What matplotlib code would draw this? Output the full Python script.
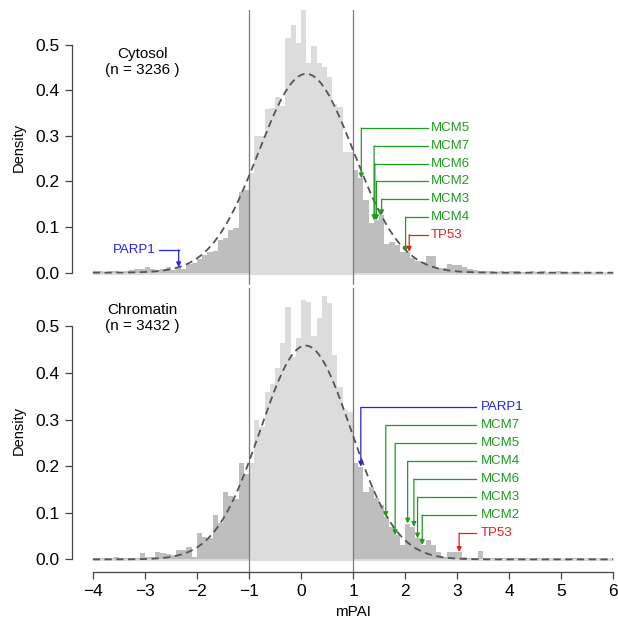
import numpy as np
import matplotlib
matplotlib.use("Agg")
import matplotlib.pyplot as plt

plt.rcParams['font.family'] = ['Liberation Sans', 'DejaVu Sans']

# histogram bins (left edges, width 0.1) from -4 to 6
bin_w = 0.1
bin_left = np.round(np.arange(-4.0, 6.0 - 1e-9, bin_w), 1)

# Cytosol densities, read bin by bin
cyto_dens = [0.003, 0.003, 0.002, 0.003, 0.003, 0.000, 0.003, 0.006, 0.009, 0.009,
             0.012, 0.009, 0.006, 0.009, 0.012, 0.006, 0.012, 0.009, 0.018, 0.021,
             0.030, 0.039, 0.046, 0.048, 0.072, 0.075, 0.094, 0.098, 0.178, 0.182,
             0.218, 0.300, 0.300, 0.360, 0.362, 0.386, 0.366, 0.514, 0.543, 0.504,
             0.580, 0.459, 0.497, 0.459, 0.452, 0.430, 0.370, 0.364, 0.265, 0.265,
             0.225, 0.207, 0.160, 0.108, 0.115, 0.126, 0.062, 0.068, 0.060, 0.046,
             0.046, 0.032, 0.026, 0.024, 0.037, 0.037, 0.010, 0.010, 0.020, 0.017,
             0.017, 0.012, 0.008, 0.006, 0.004, 0.003, 0.003, 0.002, 0.003, 0.002,
             0.003, 0.003, 0.002, 0.000, 0.003, 0.002, 0.003, 0.000, 0.002, 0.003,
             0.000, 0.002, 0.000, 0.002, 0.000, 0.002, 0.000, 0.002, 0.000, 0.002]

# Chromatin densities
chrom_dens = [0.003, 0.003, 0.003, 0.003, 0.006, 0.003, 0.002, 0.002, 0.003, 0.013,
              0.006, 0.006, 0.016, 0.014, 0.011, 0.009, 0.021, 0.020, 0.027, 0.006,
              0.056, 0.049, 0.045, 0.095, 0.079, 0.145, 0.137, 0.130, 0.206, 0.183,
              0.206, 0.299, 0.285, 0.360, 0.376, 0.410, 0.465, 0.542, 0.433, 0.475,
              0.556, 0.553, 0.480, 0.517, 0.564, 0.550, 0.438, 0.370, 0.320, 0.317,
              0.207, 0.199, 0.145, 0.156, 0.131, 0.116, 0.091, 0.070, 0.052, 0.031,
              0.077, 0.070, 0.045, 0.031, 0.041, 0.031, 0.016, 0.006, 0.016, 0.016,
              0.016, 0.006, 0.002, 0.002, 0.018, 0.003, 0.002, 0.000, 0.002, 0.002,
              0.003, 0.003, 0.003, 0.002, 0.000, 0.002, 0.000, 0.002, 0.000, 0.002,
              0.000, 0.002, 0.003, 0.003, 0.000, 0.002, 0.003, 0.000, 0.002, 0.000]

# fitted normal curves (mean, sd)
cyto_fit = (0.10, 0.915)
chrom_fit = (0.09, 0.87)

# marked proteins: name, mPAI
cyto_genes = ['PARP1', 'MCM5', 'MCM7', 'MCM6', 'MCM2', 'MCM3', 'MCM4', 'TP53']
cyto_x = [-2.35, 1.16, 1.405, 1.42, 1.45, 1.55, 2.01, 2.08]
chrom_genes = ['PARP1', 'MCM7', 'MCM5', 'MCM4', 'MCM6', 'MCM3', 'MCM2', 'TP53']
chrom_x = [1.15, 1.63, 1.81, 2.05, 2.17, 2.24, 2.33, 3.04]
gene_col = {'PARP1': '#2424e8', 'TP53': '#f01c1c'}
green = '#1f9c1f'

light = '#dcdcdc'
dark = '#bebebe'

fig = plt.figure(figsize=(6.18, 6.23), dpi=100)
W, H = 618.0, 623.0
ax1 = fig.add_axes([72 / W, (H - 285) / H, 562 / W, 275 / H])
ax2 = fig.add_axes([72 / W, (H - 572) / H, 562 / W, 284 / H])


def bin_height(dens, x):
    i = int(np.floor((x + 4.0) / bin_w + 1e-9))
    return dens[i]


def draw_panel(ax, dens, fit, name, n, text_y, ylim):
    dens = np.asarray(dens)
    inner = (bin_left >= -1.0 - 1e-9) & (bin_left < 1.0 - 1e-9)
    ax.plot([bin_left[0], bin_left[-1] + bin_w], [0, 0], color=light, lw=2.2,
            solid_capstyle='butt', zorder=1)
    ax.bar(bin_left[inner], dens[inner], width=bin_w, align='edge',
           color=light, linewidth=0, zorder=2)
    ax.bar(bin_left[~inner], dens[~inner], width=bin_w, align='edge',
           color=dark, linewidth=0, zorder=2)
    xs = np.linspace(-4, 6, 600)
    mu, sd = fit
    ys = np.exp(-0.5 * ((xs - mu) / sd) ** 2) / (sd * np.sqrt(2 * np.pi))
    ax.plot(xs, ys, color='#555555', lw=1.3, ls=(0, (4, 2.5)), zorder=4)
    for v in (-1, 1):
        ax.axvline(v, color='#7a7a7a', lw=0.9, zorder=3)
    ax.text(-3.05, text_y, name + '\n(n = ' + n + ' )',
            ha='center', va='top', fontsize=11, linespacing=1.2)
    ax.set_xlim(-4.4, 6.4)
    ax.set_ylim(*ylim)
    for s in ('top', 'right'):
        ax.spines[s].set_visible(False)
    ax.spines['left'].set_bounds(0, 0.5)
    ax.spines['left'].set_color('#444444')
    ax.spines['left'].set_linewidth(0.9)
    ax.set_yticks([0, 0.1, 0.2, 0.3, 0.4, 0.5])
    ax.set_yticklabels(['0.0', '0.1', '0.2', '0.3', '0.4', '0.5'])
    ax.tick_params(axis='y', direction='out', length=5, width=0.9, color='#444444',
                   labelsize=12.5, pad=4)
    ax.set_ylabel('Density', fontsize=10.5)
    ax.yaxis.set_label_coords(-0.083, 0.5)


def annotate(ax, dens, genes, xs, top_y, step, text_x, line_end, left_y):
    i = 0
    for g, x in zip(genes, xs):
        c = gene_col.get(g, green)
        tip = bin_height(dens, x)
        if x < 0:
            ly = left_y
            ax.plot([x, -2.73], [ly, ly], color=c, lw=0.9, zorder=5)
            ax.text(-2.79, ly, g, color=c, fontsize=9.5, ha='right', va='center')
        else:
            ly = top_y - i * step
            i += 1
            ax.plot([x, line_end], [ly, ly], color=c, lw=0.9, zorder=5)
            ax.text(text_x, ly, g, color=c, fontsize=9.5, ha='left', va='center')
        ax.annotate('', xy=(x, tip), xytext=(x, ly),
                    arrowprops=dict(arrowstyle='-|>', color=c, lw=0.9,
                                    mutation_scale=7, shrinkA=0, shrinkB=0),
                    zorder=5)


draw_panel(ax1, cyto_dens, cyto_fit, 'Cytosol', '3236', 0.495, (-0.027, 0.576))
draw_panel(ax2, chrom_dens, chrom_fit, 'Chromatin', '3432', 0.55, (-0.027, 0.582))
annotate(ax1, cyto_dens, cyto_genes, cyto_x, 0.317, 0.039, 2.5, 2.44, 0.05)
annotate(ax2, chrom_dens, chrom_genes, chrom_x, 0.326, 0.0385, 3.455, 3.37, 0.05)

ax1.spines['bottom'].set_visible(False)
ax1.set_xticks([])

ax2.spines['bottom'].set_bounds(-4, 6)
ax2.spines['bottom'].set_color('#444444')
ax2.spines['bottom'].set_linewidth(0.9)
ax2.set_xticks(range(-4, 7))
ax2.tick_params(axis='x', direction='out', length=5, width=0.9, color='#444444',
                labelsize=12.5, pad=4)
ax2.set_xlabel('mPAI', fontsize=11)
ax2.xaxis.set_label_coords(0.5, -0.115)

fig.savefig('out.png', dpi=100)
